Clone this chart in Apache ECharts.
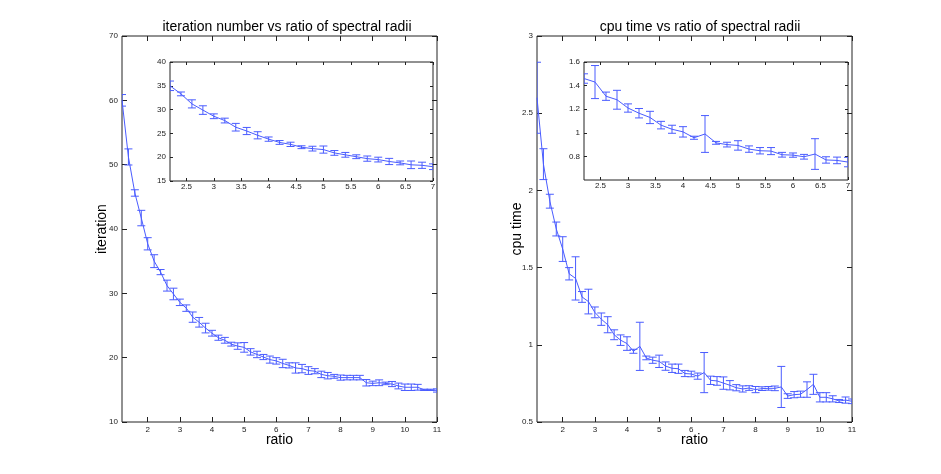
<!DOCTYPE html>
<html>
<head>
<meta charset="utf-8">
<script src="https://cdn.jsdelivr.net/npm/echarts@6/dist/echarts.min.js"></script>
<style>
html,body{margin:0;padding:0;background:#fff;}
#chart{width:941px;height:474px;}
</style>
</head>
<body>
<div id="chart"></div>
<script>
// ---- data ----
const ratio = [1.2,1.4,1.6,1.8,2.0,2.2,2.4,2.6,2.8,3.0,3.2,3.4,3.6,3.8,4.0,4.2,4.4,4.6,4.8,5.0,
  5.2,5.4,5.6,5.8,6.0,6.2,6.4,6.6,6.8,7.0,7.2,7.4,7.6,7.8,8.0,8.2,8.4,8.6,8.8,9.0,
  9.2,9.4,9.6,9.8,10.0,10.2,10.4,10.6,10.8,11.0];
const iterMean = [60.0,51.2,45.6,41.7,37.7,35.0,33.3,31.2,29.9,28.6,27.7,26.3,25.5,24.6,23.8,23.1,22.7,22.1,21.8,21.6,
  20.9,20.5,20.1,19.7,19.5,19.1,18.8,18.4,18.3,18.0,17.9,17.4,17.2,17.1,16.9,16.9,16.9,16.9,16.1,16.0,
  16.1,16.0,15.9,15.6,15.4,15.4,15.4,15.0,15.0,14.9];
const iterErr = [0.9,1.25,0.5,1.2,0.95,1.0,0.4,0.85,0.9,0.5,0.5,0.8,0.75,0.75,0.45,0.4,0.45,0.3,0.5,0.75,
  0.5,0.5,0.4,0.55,0.5,0.65,0.4,0.8,0.65,0.6,0.4,0.5,0.5,0.3,0.4,0.35,0.35,0.35,0.5,0.35,
  0.45,0.2,0.4,0.45,0.5,0.5,0.45,0.1,0.1,0.25];
const cpuMean = [2.60,2.17,1.93,1.75,1.62,1.46,1.43,1.31,1.28,1.21,1.166,1.13,1.065,1.03,1.008,0.958,0.99,0.915,0.90,0.893,
  0.862,0.848,0.845,0.814,0.811,0.797,0.82,0.77,0.766,0.752,0.738,0.722,0.714,0.72,0.71,0.716,0.718,0.718,0.727,0.668,
  0.677,0.68,0.71,0.744,0.66,0.66,0.65,0.636,0.642,0.634];
const cpuErr = [0.23,0.10,0.045,0.045,0.08,0.04,0.14,0.035,0.08,0.035,0.04,0.052,0.032,0.034,0.044,0.013,0.156,0.012,0.02,0.04,
  0.027,0.027,0.03,0.02,0.018,0.02,0.13,0.027,0.028,0.04,0.03,0.02,0.02,0.015,0.02,0.012,0.012,0.015,0.133,0.015,
  0.02,0.02,0.05,0.065,0.03,0.03,0.02,0.01,0.02,0.015];

const mainXTicks = [2,3,4,5,6,7,8,9,10,11];
const insetXTicks = [2.5,3,3.5,4,4.5,5,5.5,6,6.5,7];
const iterYTicks = [10,20,30,40,50,60,70];
const iterInsetYTicks = [15,20,25,30,35,40];
const cpuYTicks = [0.5,1,1.5,2,2.5,3];
const cpuInsetYTicks = [0.8,1,1.2,1.4,1.6];

const titles = ['iteration number vs ratio of spectral radii', 'cpu time vs ratio of spectral radii'];
const yNames = ['iteration', 'cpu time'];
const xName = 'ratio';

// ---- helpers ----
const FONT = 'Liberation Sans, Arial, Helvetica, sans-serif';
const BLUE = '#4a5cff';
const INK = '#222';

function xAxes(gi, min, max, ticks, tickLen, name) {
  const base = {
    type: 'value', gridIndex: gi, min: min, max: max,
    axisLine: {show: false}, splitLine: {show: false},
    axisTick: {show: true, inside: true, length: tickLen, customValues: ticks, lineStyle: {color: INK, width: 1}}
  };
  return [
    Object.assign({}, base, {
      position: 'bottom',
      axisLabel: {show: true, customValues: ticks, fontSize: 8, color: INK, fontFamily: FONT, margin: name ? 4 : 2},
      name: name || '', nameLocation: 'middle', nameGap: 11, nameMoveOverlap: false,
      nameTextStyle: {fontSize: 14, color: '#000', fontFamily: FONT}
    }),
    Object.assign({}, base, {position: 'top', axisLabel: {show: false}})
  ];
}
function yAxes(gi, min, max, ticks, labelTicks, tickLen, name) {
  const base = {
    type: 'value', gridIndex: gi, min: min, max: max,
    axisLine: {show: false}, splitLine: {show: false},
    axisTick: {show: true, inside: true, length: tickLen, customValues: ticks, lineStyle: {color: INK, width: 1}}
  };
  return [
    Object.assign({}, base, {
      position: 'left',
      axisLabel: {show: true, customValues: labelTicks, fontSize: 8, color: INK, fontFamily: FONT, margin: 4},
      name: name || '', nameLocation: 'middle', nameGap: 13, nameRotate: 90, nameMoveOverlap: false,
      nameTextStyle: {fontSize: 14, color: '#000', fontFamily: FONT}
    }),
    Object.assign({}, base, {position: 'right', axisLabel: {show: false}})
  ];
}

function errData(mean, err, lo, hi) {
  const out = [];
  ratio.forEach((r, i) => {
    if (r >= lo - 1e-9 && r <= hi + 1e-9) out.push([r, mean[i], mean[i] - err[i], mean[i] + err[i]]);
  });
  return out;
}

function errSeries(xi, yi, data) {
  return {
    type: 'custom', xAxisIndex: xi, yAxisIndex: yi, data: data, silent: true, z: 3, clip: true,
    renderItem: function (params, api) {
      const x = api.value(0);
      const pLo = api.coord([x, api.value(2)]);
      const pHi = api.coord([x, api.value(3)]);
      const c = 4;
      const st = {stroke: BLUE, lineWidth: 1};
      return {type: 'group', children: [
        {type: 'line', shape: {x1: pLo[0], y1: pLo[1], x2: pHi[0], y2: pHi[1]}, style: st},
        {type: 'line', shape: {x1: pLo[0] - c, y1: pLo[1], x2: pLo[0] + c, y2: pLo[1]}, style: st},
        {type: 'line', shape: {x1: pHi[0] - c, y1: pHi[1], x2: pHi[0] + c, y2: pHi[1]}, style: st}
      ]};
    }
  };
}
function lineSeries(xi, yi, data) {
  return {
    type: 'line', xAxisIndex: xi, yAxisIndex: yi, silent: true, z: 2,
    data: data.map(d => [d[0], d[1]]), showSymbol: false, symbol: 'none',
    lineStyle: {color: BLUE, width: 1}, animation: false
  };
}

const grids = [
  {left: 122, top: 36, width: 315, height: 386},
  {left: 170, top: 62, width: 263, height: 119},
  {left: 537, top: 36, width: 315, height: 386},
  {left: 584, top: 62, width: 264, height: 118}
].map(g => Object.assign(g, {show: true, borderColor: INK, borderWidth: 1, backgroundColor: '#fff', containLabel: false}));

const xAxis = [].concat(
  xAxes(0, 1.2, 11, mainXTicks, 5, xName),
  xAxes(1, 2.2, 7, insetXTicks, 3, null),
  xAxes(2, 1.2, 11, mainXTicks, 5, xName),
  xAxes(3, 2.2, 7, insetXTicks, 3, null)
);
const yAxis = [].concat(
  yAxes(0, 10, 70, iterYTicks, iterYTicks, 5, yNames[0]),
  yAxes(1, 15, 40, iterInsetYTicks, iterInsetYTicks, 3, null),
  yAxes(2, 0.5, 3, cpuYTicks, cpuYTicks, 5, yNames[1]),
  yAxes(3, 0.6, 1.6, cpuInsetYTicks, cpuInsetYTicks, 3, null)
);

const dIterMain = errData(iterMean, iterErr, 1.2, 11);
const dIterInset = errData(iterMean, iterErr, 2.2, 7);
const dCpuMain = errData(cpuMean, cpuErr, 1.2, 11);
const dCpuInset = errData(cpuMean, cpuErr, 2.2, 7);

const series = [
  lineSeries(0, 0, dIterMain), errSeries(0, 0, dIterMain),
  lineSeries(2, 2, dIterInset), errSeries(2, 2, dIterInset),
  lineSeries(4, 4, dCpuMain), errSeries(4, 4, dCpuMain),
  lineSeries(6, 6, dCpuInset), errSeries(6, 6, dCpuInset)
];

const chart = echarts.init(document.getElementById('chart'), null, {renderer: 'canvas'});
chart.setOption({
  backgroundColor: '#fff',
  animation: false,
  textStyle: {fontFamily: FONT},
  title: [
    {text: titles[0], left: 282, top: 15, textAlign: 'center', textStyle: {fontSize: 14, fontWeight: 'normal', color: '#000', fontFamily: FONT}},
    {text: titles[1], left: 695, top: 15, textAlign: 'center', textStyle: {fontSize: 14, fontWeight: 'normal', color: '#000', fontFamily: FONT}}
  ],
  grid: grids,
  xAxis: xAxis,
  yAxis: yAxis,
  series: series
});
</script>
</body>
</html>
